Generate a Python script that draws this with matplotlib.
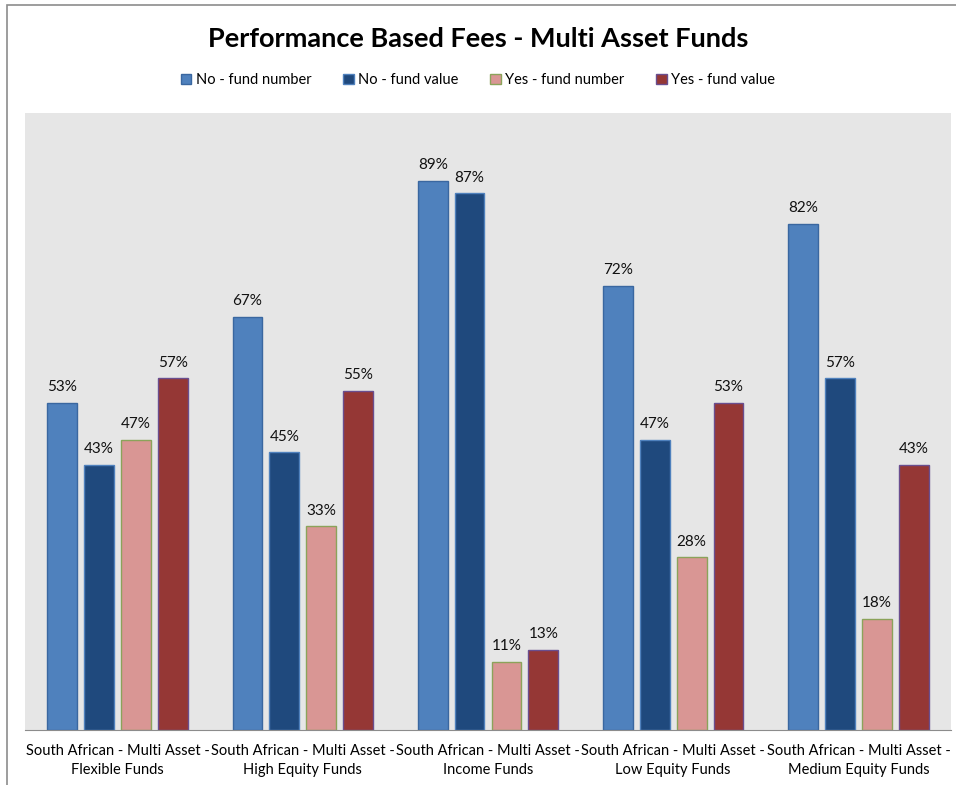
import matplotlib.pyplot as plt
import numpy as np
from matplotlib.patches import Rectangle

plt.rcParams['font.family'] = ['Lato', 'DejaVu Sans']

categories = [
    "South African - Multi Asset -\nFlexible Funds",
    "South African - Multi Asset -\nHigh Equity Funds",
    "South African - Multi Asset -\nIncome Funds",
    "South African - Multi Asset -\nLow Equity Funds",
    "South African - Multi Asset -\nMedium Equity Funds",
]
series_names = ["No - fund number", "No - fund value", "Yes - fund number", "Yes - fund value"]
no_fund_number = [53, 67, 89, 72, 82]
no_fund_value = [43, 45, 87, 47, 57]
yes_fund_number = [47, 33, 11, 28, 18]
yes_fund_value = [57, 55, 13, 53, 43]

colors = ["#4F81BD", "#1F497D", "#D99694", "#953735"]
edges = ["#3A67A0", "#4F81BD", "#8BA35A", "#6A4E8F"]

fig = plt.figure(figsize=(9.56, 7.85), dpi=100)
# outer chart frame (runs past the right and bottom edge of the image)
fig.patches.append(Rectangle((7 / 956, -0.05), 1.2, 1 - 5 / 785 + 0.05,
                             transform=fig.transFigure, fill=False,
                             edgecolor="#8C8C8C", linewidth=1.2))

ax = fig.add_axes([25 / 956, 1 - 730 / 785, 926 / 956, 617 / 785])
ax.set_facecolor("#E6E6E6")

x = np.arange(len(categories))
width = 0.161
step = 0.199
all_series = [no_fund_number, no_fund_value, yes_fund_number, yes_fund_value]
for i, (name, vals) in enumerate(zip(series_names, all_series)):
    pos = x + (i - 1.5) * step
    bars = ax.bar(pos, vals, width, color=colors[i], edgecolor=edges[i],
                  linewidth=1, label=name)
    for b, v in zip(bars, vals):
        ax.text(b.get_x() + b.get_width() / 2, v + 1.4, f"{v}%",
                ha="center", va="bottom", fontsize=11, color="#111111")

ax.set_xlim(-0.5, len(categories) - 0.5)
ax.set_ylim(0, 100)
ax.set_yticks([])
ax.set_xticks(x)
ax.set_xticklabels(categories, fontsize=10.5, linespacing=1.45)
ax.tick_params(axis="x", length=0, pad=10)
for s in ["top", "right", "left"]:
    ax.spines[s].set_visible(False)
ax.spines["bottom"].set_color("#8C8C8C")

fig.text(0.5, 1 - 39 / 785, "Performance Based Fees - Multi Asset Funds",
         ha="center", va="center", fontsize=19.5, fontweight="bold")
fig.legend(loc="center", bbox_to_anchor=(0.5, 1 - 80 / 785), ncol=4,
           frameon=False, fontsize=10.5, handlelength=0.7, handleheight=0.7,
           handletextpad=0.3, columnspacing=2.2)

fig.savefig("out.png", dpi=100)
